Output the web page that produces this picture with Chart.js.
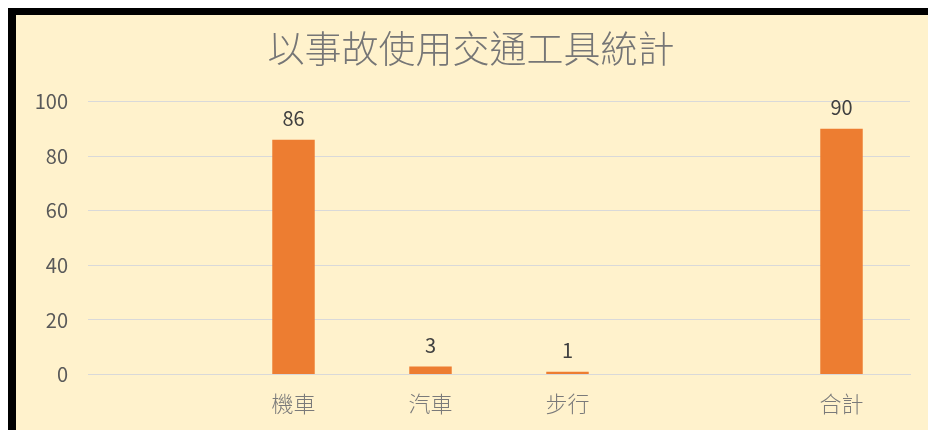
<!DOCTYPE html>
<html>
<head>
<meta charset="utf-8">
<script src="https://cdn.jsdelivr.net/npm/chart.js@4"></script>
<style>
  html, body { margin: 0; padding: 0; background: #fff; }
  #wrap {
    position: absolute; left: 8px; top: 8px;
    width: 912px; height: 415px;
    border-left: 8px solid #000; border-top: 7px solid #000;
    background: #FFF2CC;
  }
  canvas { display: block; }
</style>
</head>
<body>
<div id="wrap"><canvas id="c" width="912" height="415"></canvas></div>
<script>
// data
const categories = ["", "機車", "汽車", "步行", "", "合計"];
const counts = [null, 86, 3, 1, null, 90];
const yTicks = [0, 20, 40, 60, 80, 100];

const FONT = "'Noto Sans CJK TC', 'Noto Sans', sans-serif";

// labels above bars, no datalabels plugin available offline
const barValues = {
  id: "barValues",
  afterDatasetsDraw(chart) {
    const ctx = chart.ctx;
    const meta = chart.getDatasetMeta(0);
    ctx.save();
    ctx.fillStyle = "#404040";
    ctx.font = "20px " + FONT;
    ctx.textAlign = "center";
    ctx.textBaseline = "bottom";
    meta.data.forEach((bar, i) => {
      if (counts[i] == null) return;
      ctx.fillText(String(counts[i]), bar.x, bar.y - 11);
    });
    ctx.restore();
  },
};

new Chart(document.getElementById("c"), {
  type: "bar",
  data: {
    labels: categories,
    datasets: [{
      data: counts,
      backgroundColor: "#ED7D31",
      barPercentage: 0.31,
      categoryPercentage: 1,
    }],
  },
  options: {
    responsive: false,
    animation: false,
    // left padding nudges the title right a bit, y axis width fixed below
    layout: { padding: { left: 16, right: 18, top: 0, bottom: -3 } },
    plugins: {
      legend: { display: false },
      tooltip: { enabled: false },
      title: {
        display: true,
        text: "以事故使用交通工具統計",
        color: "#767676",
        font: { family: FONT, size: 37, weight: 300 },
        padding: { top: 12, bottom: 30 },
      },
    },
    scales: {
      x: {
        grid: { display: false, drawTicks: false },
        border: { color: "#D9D9D9" },
        ticks: { color: "#7a7a7a", font: { family: FONT, size: 22, weight: 300 }, padding: 16 },
      },
      y: {
        min: 0, max: 100,
        afterBuildTicks(axis) { axis.ticks = yTicks.map(v => ({ value: v })); },
        afterFit(axis) { axis.width = 56; },
        grid: { color: "#D9D9D9", drawTicks: false },
        border: { display: false },
        ticks: { color: "#595959", font: { family: FONT, size: 20 }, padding: 20 },
      },
    },
  },
  plugins: [barValues],
});
</script>
</body>
</html>
